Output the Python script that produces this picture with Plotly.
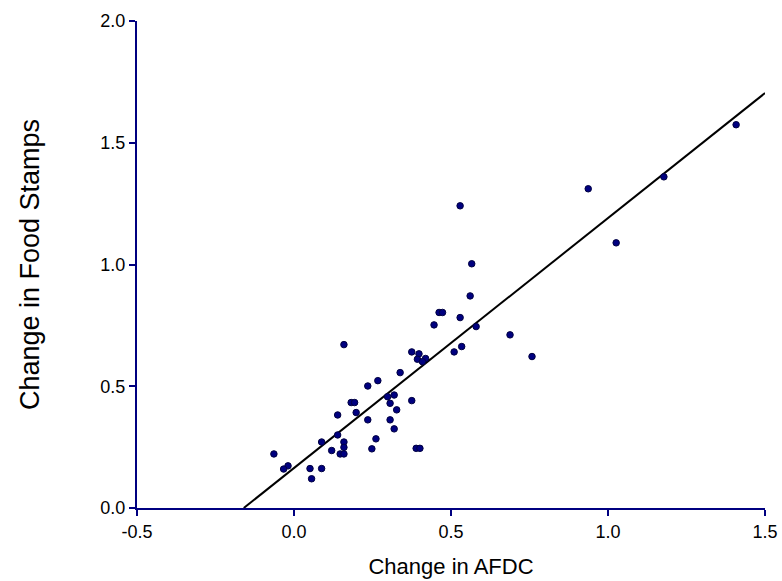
import plotly.graph_objects as go

# Data
afdc_change = [
    0.235, 0.267, 0.319, 0.298, 0.306, 0.375, 0.182, 0.193, 0.198, 0.139,
    0.327, 0.235, 0.306, 0.319, 0.139, 0.088, 0.159, 0.159, 0.261, 0.248,
    0.120, 0.147, 0.159, 0.389, 0.401, -0.064, -0.019, -0.033, 0.051, 0.088,
    0.056, 0.159, 0.375, 0.398, 0.393, 0.419, 0.409, 0.338, 0.561, 0.462,
    0.473, 0.529, 0.446, 0.580, 0.688, 0.510, 0.534, 0.758, 0.529, 0.566,
    0.937, 1.178, 1.408, 1.026,
]
food_stamps_change = [
    0.501, 0.523, 0.464, 0.457, 0.430, 0.441, 0.433, 0.433, 0.392, 0.382,
    0.403, 0.362, 0.362, 0.325, 0.300, 0.271, 0.271, 0.249, 0.284, 0.243,
    0.236, 0.222, 0.222, 0.245, 0.245, 0.222, 0.173, 0.160, 0.162, 0.162,
    0.120, 0.671, 0.641, 0.633, 0.611, 0.614, 0.601, 0.556, 0.871, 0.803,
    0.803, 0.782, 0.752, 0.745, 0.711, 0.641, 0.663, 0.622, 1.241, 1.003,
    1.311, 1.360, 1.574, 1.089,
]

# Fitted line end points
fit_x = [-0.16, 1.5]
fit_y = [0.0, 1.704]

x_ticks = [-0.5, 0.0, 0.5, 1.0, 1.5]
x_tick_labels = ["-0.5", "0.0", "0.5", "1.0", "1.5"]
y_ticks = [0.0, 0.5, 1.0, 1.5, 2.0]
y_tick_labels = ["0.0", "0.5", "1.0", "1.5", "2.0"]

NAVY = "#000080"
FONT = "Liberation Sans, Arial, sans-serif"

fig = go.Figure()
fig.add_trace(go.Scatter(
    x=fit_x, y=fit_y, mode="lines",
    line=dict(color="black", width=2),
    hoverinfo="skip", showlegend=False,
))
fig.add_trace(go.Scatter(
    x=afdc_change, y=food_stamps_change, mode="markers",
    marker=dict(symbol="circle", size=6.5, color=NAVY,
                line=dict(color="#000040", width=1)),
    showlegend=False,
))

fig.update_layout(
    template="none",
    width=782, height=581,
    margin=dict(l=137, r=17, t=21, b=73, autoexpand=False),
    paper_bgcolor="white", plot_bgcolor="white",
    font=dict(family=FONT, size=18, color="black"),
    showlegend=False,
)
fig.update_xaxes(
    automargin=False,
    range=[-0.5, 1.5], tickmode="array", tickvals=x_ticks, ticktext=x_tick_labels,
    showgrid=False, zeroline=False,
    showline=True, linecolor=NAVY, linewidth=2,
    ticks="outside", ticklen=6, tickwidth=2, tickcolor=NAVY,
    tickfont=dict(family=FONT, size=18, color="black"),
    title=dict(text="Change in AFDC", font=dict(family=FONT, size=22, color="black"), standoff=18),
)
fig.update_yaxes(
    automargin=False,
    range=[0, 2.0], tickmode="array", tickvals=y_ticks, ticktext=y_tick_labels,
    showgrid=False, zeroline=False,
    showline=True, linecolor=NAVY, linewidth=2,
    ticks="outside", ticklen=6, tickwidth=2, tickcolor=NAVY,
    tickfont=dict(family=FONT, size=18, color="black"),
    title=dict(text="Change in Food Stamps", font=dict(family=FONT, size=27, color="black"), standoff=53),
)

fig.write_html(
    "out.html",
    config={"displayModeBar": False},
    post_script="document.body.style.margin='0';document.body.style.overflow='hidden';",
)
